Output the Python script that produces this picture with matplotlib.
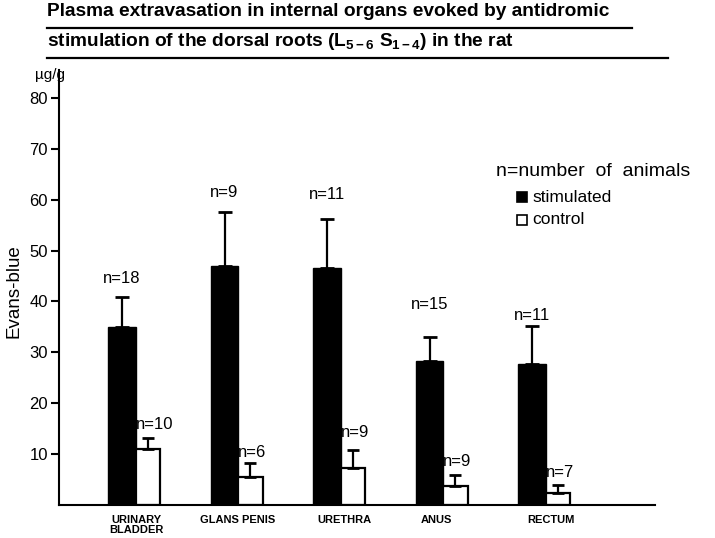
import matplotlib
matplotlib.use("Agg")
import matplotlib.pyplot as plt
import numpy as np
from matplotlib.lines import Line2D
from matplotlib.patches import Rectangle

plt.rcParams['font.family'] = ['Liberation Sans', 'DejaVu Sans']
plt.rcParams['mathtext.fontset'] = 'custom'
plt.rcParams['mathtext.rm'] = 'Liberation Sans:bold'
plt.rcParams['mathtext.it'] = 'Liberation Sans:bold'
plt.rcParams['mathtext.default'] = 'rm'

# Evans-blue content (ug/g), mean with upper error
organs = ['URINARY\nBLADDER', 'GLANS PENIS', 'URETHRA', 'ANUS', 'RECTUM']
stim_mean = [35.0, 47.0, 46.5, 28.3, 27.8]
stim_err = [5.8, 10.5, 9.8, 4.8, 7.3]
ctrl_mean = [11.0, 5.6, 7.2, 3.8, 2.4]
ctrl_err = [2.2, 2.6, 3.6, 2.1, 1.6]
stim_n = [18, 9, 11, 15, 11]
ctrl_n = [10, 6, 9, 9, 7]
# heights of the n= annotations
stim_n_y = [44.5, 61.5, 61.0, 39.5, 37.3]
ctrl_n_y = [15.8, 10.3, 14.2, 8.5, 6.4]

W, H = 715, 538
fig = plt.figure(figsize=(W / 100, H / 100), dpi=100)


def px(x, y):
    return x / W, 1 - y / H


ax = fig.add_axes([59 / W, (H - 505) / H, (655 - 59) / W, (505 - 70) / H])

x = np.arange(len(organs))
bw = 0.265
cw = 0.24
ax.bar(x, stim_mean, width=bw, color='black', edgecolor='black', linewidth=1)
ax.bar(x + bw / 2, ctrl_mean, width=cw, align='edge', color='white',
       edgecolor='black', linewidth=1.6)
ax.errorbar(x, stim_mean, yerr=[np.zeros(5), stim_err], fmt='none',
            ecolor='black', elinewidth=1.6, capsize=5, capthick=2)
ctrl_x = x + bw / 2 + cw / 2
ax.errorbar(ctrl_x, ctrl_mean, yerr=[np.zeros(5), ctrl_err], fmt='none',
            ecolor='black', elinewidth=1.6, capsize=4, capthick=2)

for i in range(len(organs)):
    ax.text(x[i], stim_n_y[i], f'n={stim_n[i]}', ha='center', va='center',
            fontsize=12)
    ax.text(x[i] + bw / 2, ctrl_n_y[i], f'n={ctrl_n[i]}', ha='left',
            va='center', fontsize=12)

ax.set_xlim(-0.615, 5.2)
ax.set_ylim(0, 85.5)
ax.set_yticks([10, 20, 30, 40, 50, 60, 70, 80])
ax.tick_params(axis='y', direction='out', length=6, width=1.5, labelsize=12,
               pad=2)
ax.set_xticks([])
for s in ['top', 'right']:
    ax.spines[s].set_visible(False)
ax.spines['left'].set_linewidth(1.5)
ax.spines['bottom'].set_linewidth(1.5)

# organ names under the axis
label_x = [0.14, 0.13, 0.17, 0.07, 0.18]
for i, name in enumerate(organs):
    ax.text(x[i] + label_x[i], -2.0, name, ha='center', va='top', fontsize=8,
            fontweight='bold', linespacing=0.95)

fig.text(*px(14, 291), 'Evans-blue', rotation=90, fontsize=13.5,
         ha='center', va='center')
fig.text(*px(35, 75), 'µg/g', fontsize=11, va='center', ha='left')

# title, underlined
fig.text(*px(47, 12), 'Plasma extravasation in internal organs evoked by antidromic',
         fontsize=13.8, fontweight='bold', va='center', ha='left')
fig.text(*px(47, 41), r'stimulation of the dorsal roots (L$_{5-6}$ S$_{1-4}$) in the rat',
         fontsize=13.8, fontweight='bold', va='center', ha='left')
for y0, x0, x1 in [(28, 47, 632), (58, 47, 668)]:
    fig.add_artist(Line2D([x0 / W, x1 / W], [1 - y0 / H, 1 - y0 / H],
                          transform=fig.transFigure, color='black', lw=1.6))

# key
fig.text(*px(496, 172), 'n=number  of  animals', fontsize=14, va='center',
         ha='left')
for yc, face, label in [(197, 'black', 'stimulated'), (220, 'white', 'control')]:
    x0, y0 = px(517, yc + 5)
    fig.add_artist(Rectangle((x0, y0), 10 / W, 10 / H, transform=fig.transFigure,
                             facecolor=face, edgecolor='black', linewidth=1.2))
    fig.text(*px(532, yc), label, fontsize=12.5, va='center', ha='left')

fig.savefig('out.png', dpi=100)
